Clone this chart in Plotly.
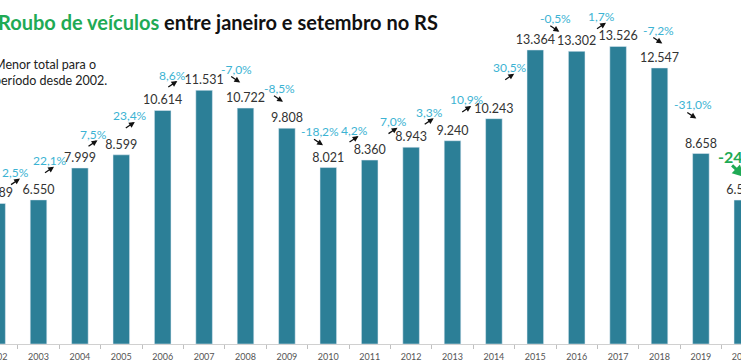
import plotly.graph_objects as go

# ---------------- data ----------------
YEARS = list(range(2002, 2021))
VALUES = [6389, 6550, 7999, 8599, 10614, 11531, 10722, 9808, 8021, 8360,
          8943, 9240, 10243, 13364, 13302, 13526, 12547, 8658, 6540]
YEAR_LABELS = [str(y) for y in YEARS]
PCT_YEARS = list(range(2003, 2021))
PCT_LABELS = ["2,5%", "22,1%", "7,5%", "23,4%", "8,6%", "-7,0%", "-8,5%", "-18,2%",
              "4,2%", "7,0%", "3,3%", "10,9%", "30,5%", "-0,5%", "1,7%", "-7,2%",
              "-31,0%", "-24,5%"]
TITLE_GREEN = "Roubo de veículos"
TITLE_BLACK = " entre janeiro e setembro no RS"
NOTE = "Menor total para o<br>período desde 2002."

# ---------------- layout helpers (px nudges of the % labels) ----------------
LABEL_NUDGE = [(-2.3, -27.3), (-9.7, -7.3), (-7.6, -20.5), (-11.7, 5.5), (-10.6, -15.3),
               (11.9, -21.3), (13.3, -19.8), (11.9, 3.5), (5, -30), (2.6, -25.6),
               (-2.6, -28.4), (-6.5, -18.7), (-4.9, 17.7), (-0.2, -31.7), (4.1, -29.7),
               (20, -16.4), (12.6, 37), (22, 2.5)]

W, H = 741, 364
PAD = 24                      # figure extends beyond the visible window on both sides
FW = W + 2 * PAD
BOTTOM = 20
PX_PER_YEAR = 41.4
PX_PER_UNIT = 0.022
X0 = 2003 - (38.5 + PAD) / PX_PER_YEAR
X1 = X0 + FW / PX_PER_YEAR
Y1 = (H - BOTTOM) / PX_PER_UNIT

BAR_COLOR = "#2c7f97"
CYAN = "#3cb3d3"
GREEN = "#1faa55"
FONT = "Lato"

fig = go.Figure()
fig.add_trace(go.Bar(
    x=YEARS, y=VALUES, width=0.4, marker_color=BAR_COLOR,
    texttemplate="%{y:,.0f}", textposition="outside", constraintext="none",
    textfont=dict(family=FONT, size=12.5, color="#333333"), cliponaxis=False,
    hoverinfo="skip",
))

annotations = []
val = dict(zip(YEARS, VALUES))
for yr, lab, (dx, dy) in zip(PCT_YEARS, PCT_LABELS, LABEL_NUDGE):
    top = max(val[yr - 1], val[yr])
    last = yr == PCT_YEARS[-1]
    neg = lab.startswith("-")
    annotations.append(dict(
        x=yr - 0.5, y=top, xref="x", yref="y", text=lab, showarrow=False,
        xshift=dx, yshift=-dy, xanchor="center", yanchor="middle",
        font=dict(family=FONT, size=16 if last else 12,
                  color=GREEN if last else CYAN,
                  weight="bold" if last else "normal"),
    ))
    if last:
        tail, head, col, aw = (-13, 8), (1, 21), GREEN, 3
    elif neg:
        tail, head, col, aw = (-7, 6.5), (3.5, 13.5), "#111111", 1.3
    else:
        tail, head, col, aw = (-6, 13), (4.5, 6), "#111111", 1.3
    annotations.append(dict(
        x=yr - 0.5, y=top, xref="x", yref="y", text="", showarrow=True,
        xshift=dx + head[0], yshift=-(dy + head[1]),
        ax=tail[0] - head[0], ay=tail[1] - head[1],
        arrowhead=2, arrowsize=0.9 if not last else 0.8, arrowwidth=aw, arrowcolor=col,
        standoff=0, startstandoff=0,
    ))

annotations.append(dict(
    x=0, y=1, xref="paper", yref="paper", xanchor="left", yanchor="middle",
    xshift=PAD - 4, yshift=-22, showarrow=False,
    text=f"<span style='color:{GREEN}'><b>{TITLE_GREEN}</b></span><b>{TITLE_BLACK}</b>",
    font=dict(family=FONT, size=20, color="#111111"),
))
annotations.append(dict(
    x=0, y=1, xref="paper", yref="paper", xanchor="left", yanchor="top",
    xshift=PAD - 8, yshift=-55, showarrow=False, align="left",
    text=NOTE, font=dict(family=FONT, size=12.5, color="#222222"),
))

fig.update_layout(
    width=FW, height=H, margin=dict(l=0, r=0, t=0, b=BOTTOM, pad=0),
    paper_bgcolor="white", plot_bgcolor="white", showlegend=False,
    separators=",.", annotations=annotations,
    xaxis=dict(range=[X0, X1], showgrid=False, zeroline=False, showline=True,
               linecolor="#d0d0d0", linewidth=1,
               tickmode="array", tickvals=YEARS, ticktext=YEAR_LABELS, ticks="",
               ticklabelstandoff=4,
               tickfont=dict(family=FONT, size=9, color="#555555"),
               minor=dict(tickmode="array", tickvals=[y + 0.5 for y in YEARS],
                          ticks="outside", ticklen=4, tickcolor="#c0c0c0", showgrid=False),
               fixedrange=True),
    yaxis=dict(range=[0, Y1], visible=False, fixedrange=True),
)

fig.write_html(
    "out.html",
    config={"displayModeBar": False},
    post_script=(
        "document.body.style.margin='0';document.body.style.overflow='hidden';"
        f"document.getElementById('{{plot_id}}').style.marginLeft='-{PAD}px';"
    ),
)
